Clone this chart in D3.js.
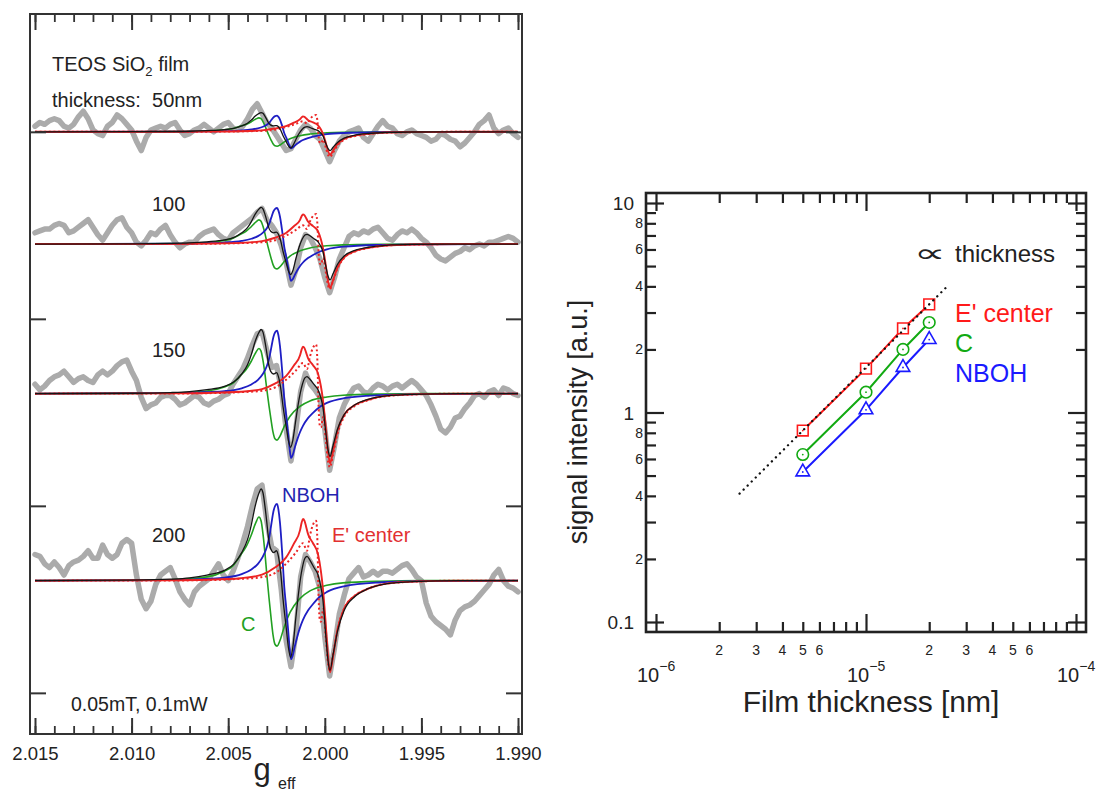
<!DOCTYPE html>
<html>
<head>
<meta charset="utf-8">
<script src="https://cdn.jsdelivr.net/npm/d3@7"></script>
<style>
  body { margin: 0; background: #fff; }
  svg { display: block; }
  text { font-family: "Liberation Sans", Arial, sans-serif; }
</style>
</head>
<body>
<svg id="chart" width="1097" height="794"></svg>
<script>
// ===================== EPR spectra (left panel) =====================
// Film thicknesses of the four stacked spectra and their vertical offsets
const traceLabels = ["50nm", "100", "150", "200"];
const traceOffsets = [0, -60, -140, -240];

// Measured spectra, sampled every 0.00025 starting at g = 2.015
const grayStart = 2.015, grayStep = 0.00025;
const gray50 = [3,5,4,6,7,6,3,2,4,8, 11,7,1,-1,-2,3,5,9,7,4, 1,-5,-10,-3,1,2,3,2,4,5,
  1,-2,-1,1,2,4,2,0,2,4, 5,2,1,3,7,12,15,10,5,2, -2,-6,-10,-9,-4,1,4,2,-2,-4,
  -10,-16,-10,-5,-2,0,1,2,-3,-5, -1,3,6,3,2,-1,-2,0,1,-1, -2,-3,-5,-4,-1,-2,-4,-5,-8,-6,
  -3,0,4,6,9,2,-1,1,2,-1, -3];
const gray100 = [6,7,8,8,10,11,10,6,7,9, 11,13,9,5,2,6,10,13,14,9, 6,1,-1,2,6,5,8,10,5,1,
  -2,0,1,1,4,6,7,8,5,3, 2,6,8,10,12,14,17,19,13,10, 6,-1,-10,-22,-14,-2,5,3,-2,-8,
  -18,-26,-18,-8,-2,4,6,5,7,6, 8,9,6,3,2,5,7,6,8,6, 3,1,-2,-6,-8,-9,-7,-5,-4,-2,
  -3,-1,0,-1,1,1,2,3,4,3, 1];
const gray150 = [5,2,4,7,9,10,12,9,6,8, 9,7,6,10,12,10,12,15,17,18, 12,7,-2,-8,-6,-5,-2,-1,-1,-3,
  -6,-5,-3,-1,-2,-5,-6,-4,-3,-1, 0,5,9,13,19,26,32,33,23,14, 15,3,-19,-36,-19,1,11,5,2,-2,
  -19,-41,-28,-13,-6,-1,3,4,1,0, 3,5,4,2,4,5,3,5,7,5, 2,-1,-6,-12,-19,-21,-18,-13,-12,-8,
  -5,-1,0,-2,1,2,-1,3,2,0, -1];
const gray200 = [14,13,9,7,10,7,3,8,10,11, 13,16,12,12,19,14,12,14,20,22, 20,3,-10,-15,-11,-2,3,5,7,1,
  -6,-10,-13,-6,-3,-1,1,5,9,3, 0,5,12,20,29,40,49,51,32,18, 16,-5,-32,-46,-28,2,14,10,5,-4,
  -30,-51,-36,-18,-8,1,4,7,2,3, 5,3,5,5,4,6,8,9,6,2, 0,-12,-19,-22,-24,-26,-29,-21,-16,-14,
  -13,-11,-8,-5,-2,3,6,0,-3,-4, -6];

// Fitted line shapes [g, signal] for the 200 nm film
const fitShape = [[2.015,0],[2.010,0.3],[2.008,0.8],[2.007,1.5],[2.0061,3],[2.0052,5.5],[2.0047,9],
  [2.0043,15],[2.0040,22],[2.0038,30],[2.0036,40],[2.0034,47],[2.0033,49],[2.0032,47],[2.0031,40],
  [2.0030,31],[2.00294,25],[2.0028,17],[2.00265,15],[2.0025,16],[2.0024,13],[2.00228,4],[2.00216,-10],
  [2.0020,-25],[2.00188,-36],[2.00177,-41],[2.00166,-36],[2.0015,-20],[2.00134,-5],[2.00118,6],
  [2.00103,12],[2.00092,13],[2.00077,11],[2.00056,7],[2.00035,3],[2.00023,-2],[2.0001,-10],
  [1.99996,-28],[1.99983,-43],[1.99973,-48],[1.99958,-40],[1.99934,-27],[1.9990,-16],[1.99844,-8.5],
  [1.99776,-4.3],[1.99683,-1.7],[1.99544,-0.5],[1.993,0],[1.990,0]];
const cShape = [[2.015,0],[2.010,0.2],[2.008,0.5],[2.0061,2],[2.0052,5],[2.00475,8],[2.00434,14],
  [2.00408,18],[2.00382,24],[2.00357,31],[2.00341,34],[2.0033,32],[2.0032,25],[2.0031,15],[2.0030,3],
  [2.00289,-9],[2.00278,-20],[2.00268,-29],[2.00258,-34],[2.00247,-35],[2.00232,-32],[2.00211,-25],
  [2.0018,-17],[2.00128,-9.5],[2.00077,-5.5],[1.99989,-2.5],[1.99906,-1.2],[1.9971,-0.3],[1.995,0],[1.990,0]];
const nbohShape = [[2.015,0],[2.008,0.3],[2.007,0.5],[2.0061,1],[2.0052,1.6],[2.0043,3.5],[2.0038,6],
  [2.00346,9],[2.0032,13],[2.0030,18],[2.00286,24],[2.00277,30],[2.00266,37],[2.00257,40],[2.00247,41],
  [2.0024,38],[2.00232,31],[2.00222,17],[2.00216,7],[2.0021,-3],[2.0020,-14],[2.0019,-26],[2.00182,-36],
  [2.00175,-42],[2.00166,-40],[2.00155,-35],[2.0014,-29],[2.00128,-25],[2.00113,-21],[2.00087,-16],
  [2.00061,-12.5],[2.00025,-8.5],[1.99989,-6],[1.99901,-3],[1.99719,-1],[1.995,-0.3],[1.990,0]];
const eShape = [[2.015,0],[2.008,0.2],[2.0061,0.5],[2.00434,1.3],[2.00325,3.2],[2.00258,7],[2.00201,12.3],
  [2.0016,19.8],[2.00128,27],[2.0012,31],[2.00113,33],[2.00105,32],[2.00097,29],[2.00087,25],[2.00061,20],
  [2.00035,14],[2.0002,5],[2.0001,-4],[1.99996,-22],[1.99983,-41],[1.99973,-49],[1.99958,-41],
  [1.99934,-26],[1.9990,-15],[1.99844,-8],[1.99776,-4.3],[1.99683,-1.6],[1.99544,-0.5],[1.993,0],[1.990,0]];
const eAltShape = [[2.015,0],[2.008,0.1],[2.006,0.3],[2.00434,1],[2.00346,1.6],[2.00258,4],[2.00201,9],
  [2.0015,15],[2.00113,20],[2.00092,16],[2.00077,24],[2.00061,30],[2.00045,32],[2.00038,20],
  [2.00033,-5],[2.00027,-20],[2.0002,-22],[2.00008,-15],[1.99995,-30],[1.99982,-45],[1.99973,-48],
  [1.99958,-40],[1.99934,-26],[1.9990,-15],[1.99844,-8],[1.99776,-4.3],[1.99683,-1.6],[1.995,-0.4],
  [1.993,0],[1.990,0]];

// Relative amplitude of each line for the 50, 100, 150 and 200 nm films
const fitScale  = [0.21, 0.40, 0.70, 1];
const cScale    = [0.22, 0.38, 0.71, 1];
const nbohScale = [0.21, 0.47, 0.82, 1];
const eScale    = [0.25, 0.48, 0.76, 1];
const eAltScale = [0.28, 0.50, 0.82, 1];

const gMajorTicks = [2.015, 2.010, 2.005, 2.000, 1.995, 1.990];
const offsetTicks = [0, -100, -200, -300];

// ===================== Signal intensity vs thickness (right panel) =====================
const thickness = [5e-6, 1e-5, 1.5e-5, 2e-5];
const eCenterInt = [0.82, 1.62, 2.52, 3.28];
const cCenterInt = [0.63, 1.25, 2.0, 2.69];
const nbohInt    = [0.52, 1.03, 1.64, 2.23];
const propX = [2.5e-6, 2.4e-5];   // reference line ∝ thickness
const propY = [0.41, 3.94];

const svg = d3.select("#chart");

// ---------- left panel ----------
const L = { left: 30, right: 522, top: 14, bottom: 734 };
const xG = d3.scaleLinear().domain([2.015, 1.990]).range([35, 518]);
const yS = d3.scaleLinear().domain([-322, 63]).range([L.bottom, L.top]);

const left = svg.append("g");
const lineG = (off, k) => d3.line()
  .x(d => xG(d[0]))
  .y(d => yS(off + d[1] * k))
  .curve(d3.curveMonotoneX);

[gray50, gray100, gray150, gray200].forEach((vals, t) => {
  const pts = vals.map((v, i) => [grayStart - i * grayStep, v]);
  left.append("path")
    .attr("d", d3.line().x(d => xG(d[0])).y(d => yS(traceOffsets[t] + d[1])).curve(d3.curveLinear)(pts))
    .attr("fill", "none").attr("stroke", "#ababab").attr("stroke-width", 5.5)
    .attr("stroke-linejoin", "round").attr("stroke-linecap", "round");
});

const comps = [
  { shape: cShape,    scale: cScale,    color: "#22a022", width: 1.6 },
  { shape: nbohShape, scale: nbohScale, color: "#1e1ec4", width: 1.8 },
  { shape: eShape,    scale: eScale,    color: "#ec2424", width: 1.9 },
  { shape: eAltShape, scale: eAltScale, color: "#ec2424", width: 2.0, dash: "2,2.6" },
  { shape: fitShape,  scale: fitScale,  color: "#151515", width: 1.3 }
];
traceOffsets.forEach((off, t) => {
  comps.forEach(c => {
    left.append("path")
      .attr("d", lineG(off, c.scale[t])(c.shape))
      .attr("fill", "none").attr("stroke", c.color).attr("stroke-width", c.width)
      .attr("stroke-dasharray", c.dash || null);
  });
});

// frame and ticks
left.append("rect").attr("x", L.left).attr("y", L.top)
  .attr("width", L.right - L.left).attr("height", L.bottom - L.top)
  .attr("fill", "none").attr("stroke", "#333").attr("stroke-width", 2);

function styleAxis(sel, w) {
  sel.select(".domain").remove();
  sel.selectAll(".tick line").attr("stroke", "#333").attr("stroke-width", w);
}
left.append("g").attr("transform", `translate(0,${L.bottom})`)
  .call(d3.axisBottom(xG).tickValues(xG.ticks(25)).tickSize(-8).tickFormat(""))
  .call(s => styleAxis(s, 1.8));
left.append("g").attr("transform", `translate(0,${L.bottom})`)
  .call(d3.axisBottom(xG).tickValues(gMajorTicks).tickSize(-16).tickPadding(13).tickFormat(d3.format(".3f")))
  .call(s => styleAxis(s, 2))
  .call(s => s.selectAll("text").attr("font-size", 18.5).attr("fill", "#222")
    .attr("font-family", "'Liberation Sans', Arial, sans-serif"));
left.append("g").attr("transform", `translate(0,${L.top})`)
  .call(d3.axisTop(xG).tickValues(xG.ticks(25)).tickSize(-8).tickFormat(""))
  .call(s => styleAxis(s, 1.8));
left.append("g").attr("transform", `translate(0,${L.top})`)
  .call(d3.axisTop(xG).tickValues(gMajorTicks).tickSize(-16).tickFormat(""))
  .call(s => styleAxis(s, 2));
left.append("g").attr("transform", `translate(${L.left},0)`)
  .call(d3.axisLeft(yS).tickValues(offsetTicks).tickSize(-16).tickFormat(""))
  .call(s => styleAxis(s, 2));
left.append("g").attr("transform", `translate(${L.right},0)`)
  .call(d3.axisRight(yS).tickValues(offsetTicks).tickSize(-16).tickFormat(""))
  .call(s => styleAxis(s, 2));

// labels
const t1 = left.append("text").attr("x", 52).attr("y", 71).attr("font-size", 20).attr("fill", "#222");
t1.append("tspan").text("TEOS SiO");
t1.append("tspan").attr("font-size", 13).attr("dy", 5).text("2");
t1.append("tspan").attr("dy", -5).text(" film");
left.append("text").attr("x", 52).attr("y", 107).attr("font-size", 20).attr("fill", "#222")
  .style("white-space", "pre").text("thickness:  " + traceLabels[0]);
[[1, 211], [2, 357], [3, 542]].forEach(([i, yy]) => {
  left.append("text").attr("x", 152).attr("y", yy).attr("font-size", 20).attr("fill", "#222")
    .text(traceLabels[i]);
});
left.append("text").attr("x", 282).attr("y", 502).attr("font-size", 20).attr("fill", "#2323b0").text("NBOH");
left.append("text").attr("x", 332).attr("y", 542).attr("font-size", 20).attr("fill", "#e23030").text("E' center");
left.append("text").attr("x", 241).attr("y", 631).attr("font-size", 20).attr("fill", "#22a022").text("C");
left.append("text").attr("x", 71).attr("y", 711).attr("font-size", 19.5).attr("fill", "#222").text("0.05mT, 0.1mW");
left.append("text").attr("x", 262).attr("y", 780).attr("font-size", 31).attr("text-anchor", "middle")
  .attr("fill", "#222").text("g");
left.append("text").attr("x", 278).attr("y", 789).attr("font-size", 16).attr("fill", "#222").text("eff");

// ---------- right panel ----------
const R = { left: 646, right: 1086, top: 193, bottom: 632 };
const xR = d3.scaleLog().domain([1e-6, 1e-4]).range([656, 1076]);
const yR = d3.scaleLog().domain([0.1, 10]).range([622, 203]);
const right = svg.append("g");

const xMinor = xR.ticks().filter(v => ![1e-6, 1e-5, 1e-4].some(m => Math.abs(v / m - 1) < 1e-9));
const xMajor = [1e-6, 1e-5, 1e-4];
const yMinor = yR.ticks().filter(v => ![0.1, 1, 10].some(m => Math.abs(v / m - 1) < 1e-9));
const yMajor = [0.1, 1, 10];

right.append("rect").attr("x", R.left).attr("y", R.top)
  .attr("width", R.right - R.left).attr("height", R.bottom - R.top)
  .attr("fill", "none").attr("stroke", "#222").attr("stroke-width", 2.6);

const tk = (axis, tr, vals, size) => right.append("g").attr("transform", tr)
  .call(axis.tickValues(vals).tickSize(size).tickFormat(""))
  .call(s => { s.select(".domain").remove(); s.selectAll(".tick line").attr("stroke", "#222").attr("stroke-width", 2.2); });
tk(d3.axisBottom(xR), `translate(0,${R.bottom})`, xMinor, -10);
tk(d3.axisBottom(xR), `translate(0,${R.bottom})`, xMajor, -18);
tk(d3.axisTop(xR), `translate(0,${R.top})`, xMinor, -10);
tk(d3.axisTop(xR), `translate(0,${R.top})`, xMajor, -18);
tk(d3.axisLeft(yR), `translate(${R.left},0)`, yMinor, -10);
tk(d3.axisLeft(yR), `translate(${R.left},0)`, yMajor, -18);
tk(d3.axisRight(yR), `translate(${R.right},0)`, yMinor, -10);
tk(d3.axisRight(yR), `translate(${R.right},0)`, yMajor, -18);

// tick labels
const mant = v => Math.round(v / Math.pow(10, Math.floor(Math.log10(v) + 1e-9)));
xMinor.filter(v => mant(v) <= 6).forEach(v => {
  right.append("text").attr("x", xR(v)).attr("y", 655).attr("text-anchor", "middle")
    .attr("font-size", 14).attr("fill", "#222").text(mant(v));
});
xMajor.forEach(v => {
  const t = right.append("text").attr("x", xR(v) - 19).attr("y", 682).attr("font-size", 20).attr("fill", "#222");
  t.append("tspan").text("10");
  t.append("tspan").attr("font-size", 14).attr("dy", -11).text("\u2212" + Math.round(-Math.log10(v)));
});
yMinor.filter(v => mant(v) % 2 === 0).forEach(v => {
  right.append("text").attr("x", 643).attr("y", yR(v) + 5).attr("text-anchor", "end")
    .attr("font-size", 14).attr("fill", "#222").text(mant(v));
});
yMajor.forEach(v => {
  right.append("text").attr("x", 634).attr("y", yR(v) + 7).attr("text-anchor", "end")
    .attr("font-size", 19).attr("fill", "#222").text(v >= 1 ? String(v) : "0.1");
});

// axis titles
right.append("text").attr("transform", "translate(587,422) rotate(-90)").attr("text-anchor", "middle")
  .attr("font-size", 27).attr("fill", "#222").text("signal intensity [a.u.]");
right.append("text").attr("x", 871).attr("y", 712).attr("text-anchor", "middle")
  .attr("font-size", 30).attr("fill", "#222").text("Film thickness [nm]");

// series
const seriesR = [
  { vals: eCenterInt, color: "#ff1a1a", marker: "square" },
  { vals: cCenterInt, color: "#12aa12", marker: "circle" },
  { vals: nbohInt,    color: "#1a1aff", marker: "triangle" }
];
const lineR = d3.line().x(d => xR(d[0])).y(d => yR(d[1]));
seriesR.forEach(s => {
  const pts = thickness.map((x, i) => [x, s.vals[i]]);
  right.append("path").attr("d", lineR(pts)).attr("fill", "none")
    .attr("stroke", s.color).attr("stroke-width", 2);
});
const symType = { square: d3.symbolSquare, circle: d3.symbolCircle, triangle: d3.symbolTriangle };
const symSize = { square: 115, circle: 105, triangle: 80 };
seriesR.forEach(s => {
  thickness.forEach((x, i) => {
    const cx = xR(x), cy = yR(s.vals[i]);
    right.append("path").attr("d", d3.symbol(symType[s.marker], symSize[s.marker])())
      .attr("transform", `translate(${cx},${cy})`)
      .attr("fill", "#fff").attr("stroke", s.color).attr("stroke-width", 1.6);
    right.append("circle").attr("cx", cx).attr("cy", cy).attr("r", 0.9).attr("fill", s.color);
  });
});

// proportional reference line
right.append("path").attr("d", lineR(propX.map((x, i) => [x, propY[i]])))
  .attr("fill", "none").attr("stroke", "#111").attr("stroke-width", 2.3)
  .attr("stroke-linecap", "round").attr("stroke-dasharray", "0.1,5.6");

// "proportional to" sign, widened to the proportions of the original glyph
right.append("text").attr("transform", "translate(914,262) scale(1.7,1)").attr("font-size", 26)
  .attr("font-family", "'DejaVu Sans', sans-serif").attr("fill", "#222").text("\u221D");
right.append("text").attr("x", 955).attr("y", 262).attr("font-size", 24).attr("fill", "#222").text("thickness");
right.append("text").attr("x", 955).attr("y", 322).attr("font-size", 25).attr("fill", "#ff1a1a").text("E' center");
right.append("text").attr("x", 955).attr("y", 352).attr("font-size", 25).attr("fill", "#12aa12").text("C");
right.append("text").attr("x", 955).attr("y", 382).attr("font-size", 25).attr("fill", "#1a1aff").text("NBOH");
</script>
</body>
</html>
